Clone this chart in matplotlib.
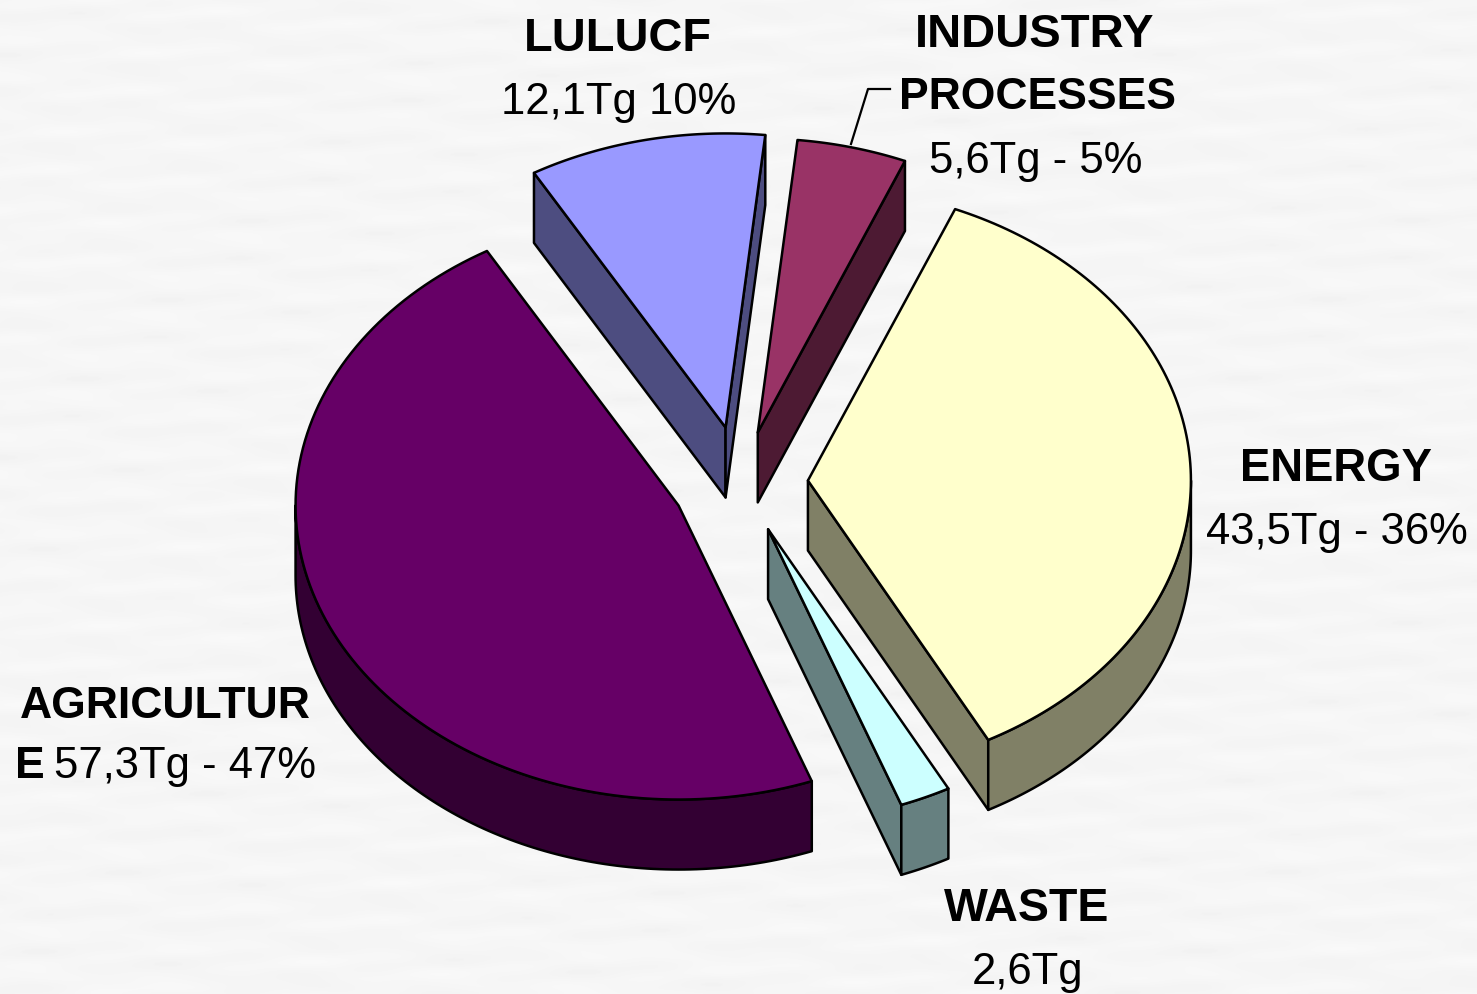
import numpy as np
import matplotlib
matplotlib.use('Agg')
import matplotlib.pyplot as plt
from matplotlib.patches import Polygon

names = ['ENERGY', 'WASTE', 'AGRICULTURE', 'LULUCF', 'INDUSTRY PROCESSES']
values = [43.5, 2.6, 57.3, 12.1, 5.6]
top_colors = ['#FFFFCC', '#CCFFFF', '#660066', '#9999FF', '#993366']
side_colors = ['#808066', '#668080', '#330033', '#4D4D80', '#4D1A33']
draw_order = [3, 4, 0, 1, 2]

# pie geometry in pixels
cx, cy = 741, 484
rx, ry = 383, 294
depth = 70
explode = [67, 66, 69, 74, 68]
first_angle = 22.6

plt.rcParams['font.family'] = ['Liberation Sans', 'DejaVu Sans']

fig = plt.figure(figsize=(14.77, 9.95), dpi=100, facecolor='#F6F6F6')
ax = fig.add_axes([0, 0, 1, 1])
ax.set_xlim(0, 1477)
ax.set_ylim(995, 0)
ax.axis('off')

# faint paper texture, stretched sideways
gx, gy = np.meshgrid(np.arange(1477), np.arange(995))
paper = (np.sin(gx / 37.0 + gy / 5.3) + np.sin(gx / 61.0 - gy / 7.1)
         + np.sin(gx / 23.0 + gy / 11.7) * np.sin(gy / 3.9 - gx / 47.0))
ax.imshow(245.5 + 1.0 * paper, cmap='gray', vmin=0, vmax=255,
          extent=(0, 1477, 995, 0), aspect='auto', zorder=0, interpolation='bilinear')


def arc(x0, y0, a1, a2):
    # angles clockwise from the top of the pie
    t = np.radians(np.linspace(a1, a2, 120))
    return np.column_stack([x0 + rx * np.sin(t), y0 - ry * np.cos(t)])


def draw_slice(i, a1, a2):
    mid = np.radians((a1 + a2) / 2)
    x0 = cx + explode[i] * np.sin(mid)
    y0 = cy - explode[i] * ry / rx * np.cos(mid)
    style = dict(edgecolor='black', linewidth=1.8, joinstyle='round', zorder=2)

    # flat side walls that face the viewer
    for edge, normal in [(a1, a1 - 90), (a2, a2 + 90)]:
        if np.cos(np.radians(normal)) < 0:
            p = arc(x0, y0, edge, edge)[0]
            wall = [(x0, y0), tuple(p), (p[0], p[1] + depth), (x0, y0 + depth)]
            ax.add_patch(Polygon(wall, facecolor=side_colors[i], **style))

    # outer wall, only the part on the near half of the pie
    lo, hi = max(a1, 90), min(a2, 270)
    if lo < hi:
        rim = arc(x0, y0, lo, hi)
        wall = np.vstack([rim, rim[::-1] + [0, depth]])
        ax.add_patch(Polygon(wall, facecolor=side_colors[i], **style))

    top = np.vstack([[x0, y0], arc(x0, y0, a1, a2)])
    ax.add_patch(Polygon(top, facecolor=top_colors[i], **style))


spans = np.array(values) / sum(values) * 360
starts = first_angle + np.concatenate([[0], np.cumsum(spans)[:-1]])
for i in draw_order:
    draw_slice(i, starts[i], starts[i] + spans[i])

# leader line of the industry label
ax.plot([851, 868, 890], [145, 90, 90], color='black', linewidth=1.6, zorder=3)

bold = dict(fontweight='bold', va='baseline', color='black')
plain = dict(fontsize=31.4, va='baseline', color='black')

ax.text(618, 51, 'LULUCF', ha='center', fontsize=33.8, **bold)
ax.text(619, 114, '12,1Tg 10%', ha='center', **plain)
ax.text(1035, 47, 'INDUSTRY', ha='center', fontsize=34, **bold)
ax.text(1037, 109, 'PROCESSES', ha='center', fontsize=32, **bold)
ax.text(1036, 173, '5,6Tg - 5%', ha='center', **plain)
ax.text(1336, 481, 'ENERGY', ha='center', fontsize=32.8, **bold)
ax.text(1337, 544, '43,5Tg - 36%', ha='center', **plain)
ax.text(1027, 921, 'WASTE', ha='center', fontsize=33.5, **bold)
ax.text(1028, 984, '2,6Tg', ha='center', **plain)
ax.text(165, 718, 'AGRICULTUR', ha='center', fontsize=32, **bold)
ax.text(15, 778, 'E', ha='left', fontsize=32, **bold)
ax.text(54, 778, '57,3Tg - 47%', ha='left', **plain)

fig.savefig('out.png', dpi=100, facecolor=fig.get_facecolor())
